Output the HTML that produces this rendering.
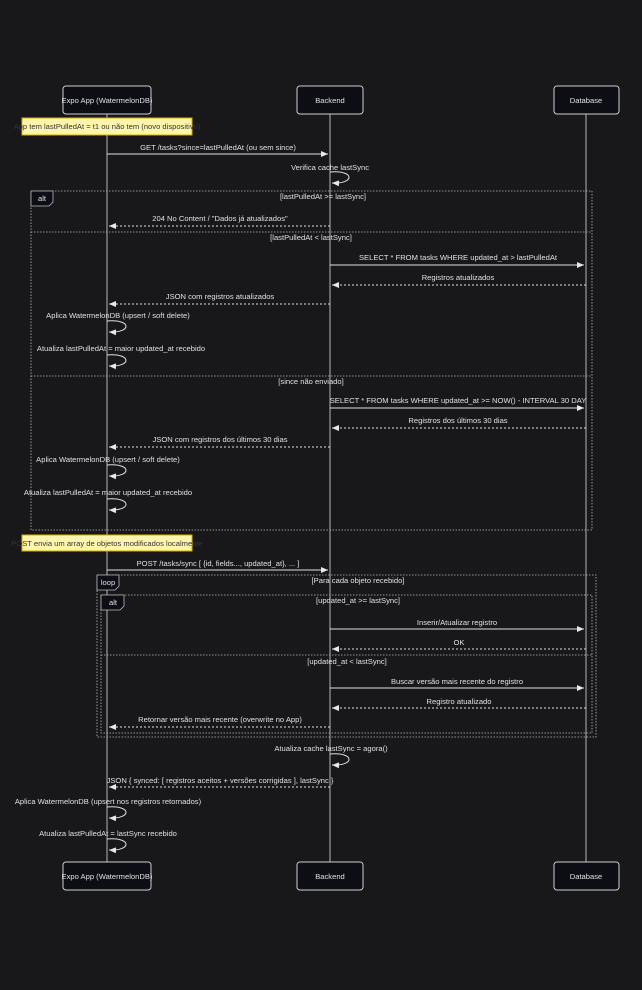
<!DOCTYPE html>
<html><head><meta charset="utf-8"><style>
html,body{margin:0;padding:0;background:#18181a;}
svg{display:block}
text{font-family:"Liberation Sans",sans-serif;font-size:7.6px;fill:#e0e0e0;}
.ll{stroke:#9a9a9a;stroke-width:1.2}
.m{stroke:#e0e0e0;stroke-width:1;fill:none}
.d{stroke:#e0e0e0;stroke-width:1;fill:none;stroke-dasharray:2,2}
.box{fill:none;stroke:#bbb;stroke-width:0.8;stroke-dasharray:1.5,1.5}
.act{fill:#0d0d16;stroke:#cfcfcf;stroke-width:1}
.tab{fill:#0d0d16;stroke:#bbb;stroke-width:0.8}
</style></head><body>
<svg width="642" height="990" viewBox="0 0 642 990" xmlns="http://www.w3.org/2000/svg">
<defs>
<marker id="a" markerWidth="8" markerHeight="8" refX="7" refY="4" orient="auto" markerUnits="userSpaceOnUse"><path d="M0,1 L7,4 L0,7 z" fill="#e8e8e8"/></marker>
</defs>
<rect width="642" height="990" fill="#18181a"/>
<line class="ll" x1="107" y1="114" x2="107" y2="862"/>
<line class="ll" x1="330" y1="114" x2="330" y2="862"/>
<line class="ll" x1="586" y1="114" x2="586" y2="862"/>
<rect class="act" x="63" y="86" width="88" height="28" rx="3"/>
<text x="107" y="103" text-anchor="middle">Expo App (WatermelonDB)</text>
<rect class="act" x="297" y="86" width="66" height="28" rx="3"/>
<text x="330" y="103" text-anchor="middle">Backend</text>
<rect class="act" x="554" y="86" width="65" height="28" rx="3"/>
<text x="586" y="103" text-anchor="middle">Database</text>
<rect class="act" x="63" y="862" width="88" height="28" rx="3"/>
<text x="107" y="879" text-anchor="middle">Expo App (WatermelonDB)</text>
<rect class="act" x="297" y="862" width="66" height="28" rx="3"/>
<text x="330" y="879" text-anchor="middle">Backend</text>
<rect class="act" x="554" y="862" width="65" height="28" rx="3"/>
<text x="586" y="879" text-anchor="middle">Database</text>

<rect x="22" y="118" width="170" height="17" fill="#fff5ad" stroke="#d4b000" stroke-width="1"/>
<text x="107" y="129" text-anchor="middle" style="fill:#333">App tem lastPulledAt = t1 ou não tem (novo dispositivo)</text>

<text x="218" y="150" text-anchor="middle">GET /tasks?since=lastPulledAt (ou sem since)</text>
<line class="m" x1="107" y1="154" x2="328" y2="154" marker-end="url(#a)"/>

<text x="330" y="170" text-anchor="middle">Verifica cache lastSync</text>
<path class="m" d="M330,172 C355,170 355,184 332,183" marker-end="url(#a)"/>

<rect class="box" x="31" y="191" width="561" height="339"/>
<path class="tab" d="M31,191 H53 V202 L49,206 H31 Z"/>
<text x="42" y="201" text-anchor="middle">alt</text>
<text x="323" y="199" text-anchor="middle">[lastPulledAt &gt;= lastSync]</text>
<text x="220" y="221" text-anchor="middle">204 No Content / "Dados já atualizados"</text>
<line class="d" x1="330" y1="226" x2="109" y2="226" marker-end="url(#a)"/>
<line class="box" x1="31" y1="232" x2="592" y2="232"/>
<text x="311" y="240" text-anchor="middle">[lastPulledAt &lt; lastSync]</text>
<text x="458" y="260" text-anchor="middle">SELECT * FROM tasks WHERE updated_at &gt; lastPulledAt</text>
<line class="m" x1="330" y1="265" x2="584" y2="265" marker-end="url(#a)"/>
<text x="458" y="280" text-anchor="middle">Registros atualizados</text>
<line class="d" x1="586" y1="285" x2="332" y2="285" marker-end="url(#a)"/>
<text x="220" y="299" text-anchor="middle">JSON com registros atualizados</text>
<line class="d" x1="330" y1="304" x2="109" y2="304" marker-end="url(#a)"/>
<text x="118" y="318" text-anchor="middle">Aplica WatermelonDB (upsert / soft delete)</text>
<path class="m" d="M107,321 C132,319 132,333 109,332" marker-end="url(#a)"/>
<text x="121" y="351" text-anchor="middle">Atualiza lastPulledAt = maior updated_at recebido</text>
<path class="m" d="M107,355 C132,353 132,367 109,366" marker-end="url(#a)"/>
<line class="box" x1="31" y1="376" x2="592" y2="376"/>
<text x="311" y="384" text-anchor="middle">[since não enviado]</text>
<text x="458" y="403" text-anchor="middle">SELECT * FROM tasks WHERE updated_at &gt;= NOW() - INTERVAL 30 DAY</text>
<line class="m" x1="330" y1="408" x2="584" y2="408" marker-end="url(#a)"/>
<text x="458" y="423" text-anchor="middle">Registros dos últimos 30 dias</text>
<line class="d" x1="586" y1="428" x2="332" y2="428" marker-end="url(#a)"/>
<text x="220" y="442" text-anchor="middle">JSON com registros dos últimos 30 dias</text>
<line class="d" x1="330" y1="447" x2="109" y2="447" marker-end="url(#a)"/>
<text x="108" y="462" text-anchor="middle">Aplica WatermelonDB (upsert / soft delete)</text>
<path class="m" d="M107,465 C132,463 132,477 109,476" marker-end="url(#a)"/>
<text x="108" y="495" text-anchor="middle">Atualiza lastPulledAt = maior updated_at recebido</text>
<path class="m" d="M107,499 C132,497 132,511 109,510" marker-end="url(#a)"/>

<rect x="22" y="535" width="170" height="16" fill="#fff5ad" stroke="#d4b000" stroke-width="1"/>
<text x="107" y="546" text-anchor="middle" style="fill:#333">POST envia um array de objetos modificados localmente</text>

<text x="218" y="566" text-anchor="middle">POST /tasks/sync [ {id, fields..., updated_at}, ... ]</text>
<line class="m" x1="107" y1="570" x2="328" y2="570" marker-end="url(#a)"/>

<rect class="box" x="97" y="575" width="499" height="162"/>
<path class="tab" d="M97,575 H119 V586 L115,590 H97 Z"/>
<text x="108" y="585" text-anchor="middle">loop</text>
<text x="358" y="583" text-anchor="middle">[Para cada objeto recebido]</text>
<rect class="box" x="101" y="595" width="491" height="138"/>
<path class="tab" d="M101,595 H124 V606 L120,610 H101 Z"/>
<text x="113" y="605" text-anchor="middle">alt</text>
<text x="358" y="603" text-anchor="middle">[updated_at &gt;= lastSync]</text>
<text x="457" y="625" text-anchor="middle">Inserir/Atualizar registro</text>
<line class="m" x1="330" y1="629" x2="584" y2="629" marker-end="url(#a)"/>
<text x="459" y="645" text-anchor="middle">OK</text>
<line class="d" x1="586" y1="649" x2="332" y2="649" marker-end="url(#a)"/>
<line class="box" x1="101" y1="655" x2="592" y2="655"/>
<text x="347" y="664" text-anchor="middle">[updated_at &lt; lastSync]</text>
<text x="457" y="684" text-anchor="middle">Buscar versão mais recente do registro</text>
<line class="m" x1="330" y1="688" x2="584" y2="688" marker-end="url(#a)"/>
<text x="459" y="704" text-anchor="middle">Registro atualizado</text>
<line class="d" x1="586" y1="708" x2="332" y2="708" marker-end="url(#a)"/>
<text x="220" y="722" text-anchor="middle">Retornar versão mais recente (overwrite no App)</text>
<line class="d" x1="330" y1="727" x2="109" y2="727" marker-end="url(#a)"/>

<text x="331" y="751" text-anchor="middle">Atualiza cache lastSync = agora()</text>
<path class="m" d="M330,754 C355,752 355,766 332,765" marker-end="url(#a)"/>
<text x="220" y="783" text-anchor="middle">JSON { synced: [ registros aceitos + versões corrigidas ], lastSync }</text>
<line class="d" x1="330" y1="787" x2="109" y2="787" marker-end="url(#a)"/>
<text x="108" y="804" text-anchor="middle">Aplica WatermelonDB (upsert nos registros retornados)</text>
<path class="m" d="M107,807 C132,805 132,819 109,818" marker-end="url(#a)"/>
<text x="108" y="836" text-anchor="middle">Atualiza lastPulledAt = lastSync recebido</text>
<path class="m" d="M107,839 C132,837 132,851 109,850" marker-end="url(#a)"/>
</svg>
</body></html>
